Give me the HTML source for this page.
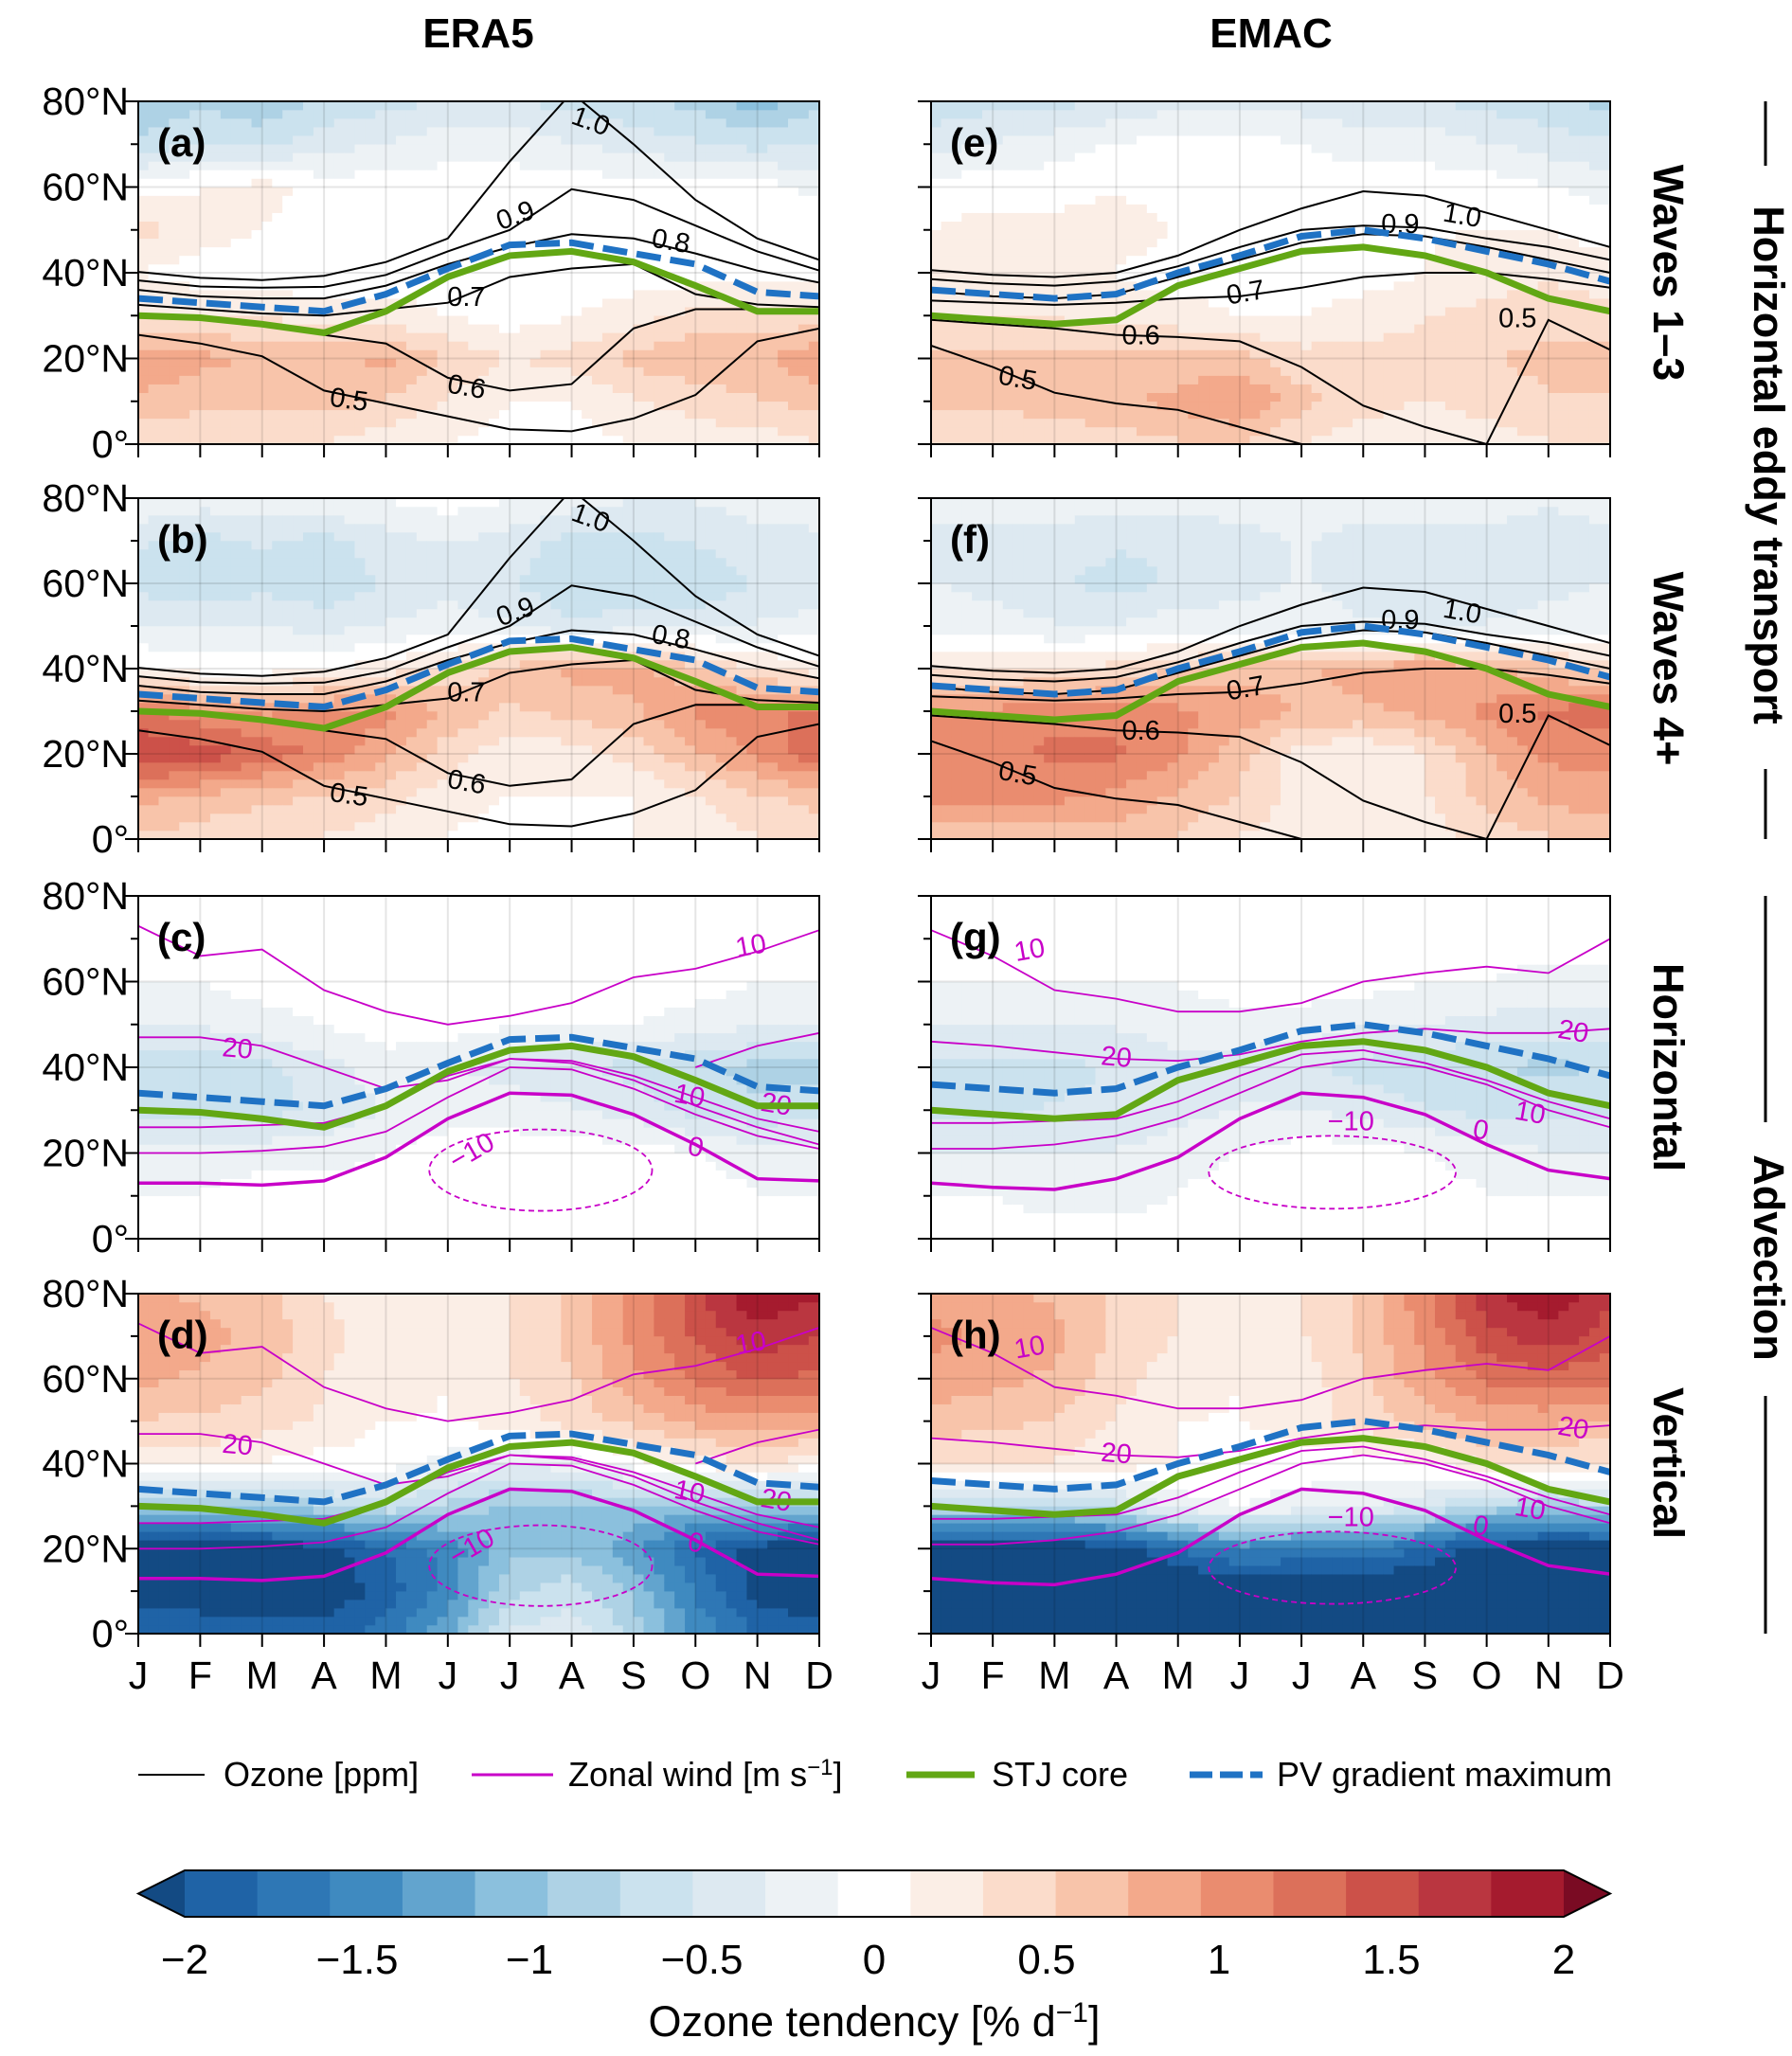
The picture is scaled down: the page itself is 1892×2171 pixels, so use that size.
<!DOCTYPE html>
<html><head><meta charset="utf-8"><style>
html,body{margin:0;padding:0;background:#fff}
svg{display:block;font-family:"Liberation Sans",Arial,sans-serif}
</style></head><body>
<svg id="fig" width="1892" height="2171" viewBox="0 0 1892 2171" xmlns="http://www.w3.org/2000/svg"></svg>
<script>
// ---------- data ----------
const months = ["J","F","M","A","M","J","J","A","S","O","N","D"];
const lats = [0,10,20,30,40,50,60,70,80];
const latTicks = ["0°","20°N","40°N","60°N","80°N"];
const latTickVals = [0,20,40,60,80];
const cbTicks = [-2,-1.5,-1,-0.5,0,0.5,1,1.5,2];
const cbTickLabels = ["−2","−1.5","−1","−0.5","0","0.5","1","1.5","2"];
const fieldA = [
[0.3,0.3,0.3,0.3,0.2,0.1,0,0,0.1,0.2,0.2,0.3],
[0.7,0.6,0.6,0.6,0.5,0.3,0.1,0.1,0.3,0.4,0.5,0.6],
[0.9,0.8,0.7,0.7,0.8,0.5,0.3,0.4,0.6,0.7,0.7,0.9],
[0.3,0.3,0.3,0.2,0.2,0.1,0,0.1,0.2,0.4,0.4,0.4],
[0.1,0,0,-0.1,0,0,0,0,0,0,0,0],
[0.4,0.2,0.1,0,0,0,0,0,0,0.1,0.1,0.1],
[0,0.1,0.2,0,0,0,0,0,0,0,0,-0.2],
[-0.7,-0.5,-0.6,-0.4,-0.3,-0.2,-0.2,-0.3,-0.4,-0.5,-0.6,-0.5],
[-0.9,-0.8,-0.9,-0.7,-0.6,-0.5,-0.5,-0.6,-0.7,-0.8,-1.1,-0.8]];
const fieldE = [
[0.3,0.3,0.4,0.4,0.5,0.5,0.3,0.2,0.2,0.2,0.3,0.3],
[0.6,0.6,0.6,0.7,0.8,1.0,0.6,0.4,0.3,0.4,0.5,0.5],
[0.6,0.6,0.6,0.6,0.6,0.6,0.4,0.4,0.4,0.5,0.6,0.6],
[0.3,0.3,0.3,0.2,0.2,0.1,0.1,0.2,0.3,0.4,0.4,0.4],
[0.2,0.2,0.1,0.1,0,0,0,0,0.1,0.2,0.3,0.2],
[0.1,0.2,0.2,0.2,0.1,0,0,0,0.1,0.1,0.1,0],
[0,0,0,0.1,0,0,0,0,0,0,-0.1,-0.2],
[-0.4,-0.3,-0.2,-0.1,0,0,-0.1,-0.2,-0.2,-0.3,-0.4,-0.5],
[-0.7,-0.6,-0.6,-0.5,-0.4,-0.4,-0.4,-0.5,-0.5,-0.6,-0.7,-0.8]];
const fieldB = [
[0.5,0.4,0.3,0.3,0.2,0.1,0,0,0.1,0.2,0.3,0.4],
[0.8,0.7,0.6,0.5,0.4,0.2,0.1,0.1,0.1,0.3,0.5,0.6],
[1.6,1.5,1.3,1.1,0.8,0.4,0.2,0.2,0.4,0.7,1.0,1.3],
[1.2,1.0,0.9,1.0,1.0,0.7,0.5,0.6,0.7,1.0,1.1,1.2],
[0.1,0,0,0.1,0.2,0.4,0.6,0.8,0.8,0.6,0.3,0.2],
[-0.3,-0.3,-0.3,-0.4,-0.3,-0.2,-0.3,-0.5,-0.4,-0.4,-0.3,-0.2],
[-0.6,-0.7,-0.6,-0.7,-0.5,-0.4,-0.5,-0.7,-0.7,-0.7,-0.5,-0.5],
[-0.5,-0.6,-0.5,-0.6,-0.4,-0.3,-0.4,-0.6,-0.6,-0.5,-0.4,-0.4],
[-0.1,-0.2,-0.2,-0.1,-0.1,0,-0.1,-0.2,-0.3,-0.3,-0.2,-0.1]];
const fieldF = [
[0.6,0.6,0.6,0.6,0.5,0.3,0.2,0.1,0.2,0.4,0.5,0.5],
[1.0,1.0,1.0,0.9,0.7,0.5,0.2,0.1,0.3,0.6,0.8,0.9],
[1.0,1.1,1.2,1.2,1.0,0.6,0.2,0.1,0.3,0.7,1.0,1.0],
[1.0,1.0,1.1,1.1,1.0,0.9,0.7,0.7,0.8,1.0,1.2,1.3],
[0.3,0.3,0.3,0.4,0.5,0.6,0.7,0.8,0.9,0.8,0.6,0.4],
[-0.2,-0.2,-0.3,-0.3,-0.2,-0.2,-0.2,-0.3,-0.3,-0.3,-0.2,-0.2],
[-0.3,-0.4,-0.5,-0.6,-0.5,-0.4,-0.3,-0.4,-0.5,-0.5,-0.4,-0.3],
[-0.4,-0.4,-0.4,-0.5,-0.5,-0.4,-0.3,-0.4,-0.4,-0.4,-0.4,-0.4],
[-0.2,-0.2,-0.2,-0.2,-0.2,-0.2,-0.2,-0.2,-0.2,-0.2,-0.3,-0.2]];
const fieldC = [
[0,0,0,0,0,0.1,0.1,0.1,0,0,0,0],
[-0.1,-0.1,0,0,0,0,0,0,0,0,-0.1,-0.1],
[-0.2,-0.2,-0.2,-0.2,-0.1,0,0,0,0,-0.1,-0.2,-0.2],
[-0.6,-0.6,-0.6,-0.5,-0.3,-0.2,-0.2,-0.3,-0.4,-0.6,-0.7,-0.6],
[-0.7,-0.7,-0.6,-0.4,-0.2,-0.3,-0.4,-0.5,-0.6,-0.7,-0.8,-0.8],
[-0.3,-0.3,-0.2,-0.1,0,0,-0.1,-0.1,-0.1,-0.2,-0.3,-0.3],
[-0.1,-0.1,0,0,0,0,0,0,0,0,-0.1,-0.1],
[0,0,0,0,0,0,0,0,0,0,0,0],
[0,0,0,0,0,0,0,0,0,0,0,0]];
const fieldG = [
[0,0,0,0,0,0,0,0,0,0,0,0],
[-0.1,-0.1,-0.2,-0.2,-0.1,0,0,0,0,-0.1,-0.1,-0.1],
[-0.3,-0.3,-0.3,-0.3,-0.2,-0.1,0,0,-0.1,-0.2,-0.3,-0.3],
[-0.6,-0.6,-0.5,-0.5,-0.4,-0.3,-0.3,-0.4,-0.5,-0.6,-0.6,-0.6],
[-0.6,-0.6,-0.6,-0.5,-0.4,-0.4,-0.5,-0.6,-0.7,-0.7,-0.8,-0.7],
[-0.3,-0.3,-0.3,-0.3,-0.2,-0.2,-0.2,-0.3,-0.3,-0.4,-0.4,-0.4],
[-0.1,-0.1,-0.1,-0.1,-0.1,0,0,0,-0.1,-0.1,-0.2,-0.2],
[0,0,0,0,0,0,0,0,0,0,0,0],
[0,0,0,0,0,0,0,0,0,0,0,0]];
const fieldD = [
[-1.8,-1.8,-1.9,-1.9,-1.7,-1.2,-0.5,-0.4,-0.8,-1.4,-1.8,-1.9],
[-2.2,-2.2,-2.2,-2.2,-1.9,-1.5,-0.8,-0.6,-1.0,-1.6,-2.1,-2.2],
[-2.2,-2.2,-2.2,-2.1,-1.8,-1.5,-1.0,-1.0,-1.3,-1.8,-2.1,-2.2],
[-1.0,-1.0,-0.9,-0.8,-0.6,-0.8,-1.0,-1.0,-1.0,-1.0,-1.0,-1.0],
[0.2,0.2,0.1,0,0,-0.2,-0.3,-0.2,0,0.2,0.3,0.2],
[0.5,0.5,0.4,0.3,0.1,0.1,0.2,0.4,0.6,0.8,0.9,0.8],
[0.8,0.7,0.6,0.3,0.2,0.1,0.3,0.5,0.9,1.2,1.4,1.3],
[0.9,0.8,0.7,0.4,0.2,0.2,0.3,0.6,1.0,1.4,1.7,1.6],
[0.8,0.7,0.6,0.3,0.2,0.2,0.3,0.6,1.0,1.5,2.0,1.8]];
const fieldH = [
[-2.3,-2.3,-2.3,-2.3,-2.3,-2.3,-2.3,-2.3,-2.3,-2.3,-2.3,-2.3],
[-2.3,-2.3,-2.3,-2.3,-2.3,-2.3,-2.3,-2.3,-2.3,-2.3,-2.3,-2.3],
[-2.2,-2.2,-2.2,-2.1,-1.8,-1.5,-1.6,-1.6,-1.8,-2.1,-2.2,-2.2],
[-0.8,-0.8,-0.8,-0.6,-0.2,-0.1,-0.2,-0.3,-0.5,-0.8,-0.9,-0.8],
[0.4,0.3,0.3,0.2,0.1,0,0,0,0.1,0.3,0.3,0.3],
[0.6,0.6,0.5,0.3,0.1,0.1,0.2,0.4,0.6,0.8,0.8,0.7],
[0.9,0.8,0.7,0.4,0.2,0.1,0.2,0.5,0.9,1.2,1.3,1.2],
[1.0,0.9,0.8,0.5,0.3,0.2,0.3,0.6,1.0,1.5,1.7,1.5],
[0.9,0.8,0.7,0.5,0.3,0.2,0.3,0.6,1.1,1.7,2.0,1.6]];
const stjEra = [30,29.5,28,26,31,39,44,45,42.5,37,31,31];
const pvEra  = [34,33,32,31,35,41,46.5,47,44.5,42,35.5,34.5];
const stjEmac = [30,29,28,29,37,41,45,46,44,40,34,31];
const pvEmac  = [36,35,34,35,40,44,48.5,50,48,45,42,38];
const ozEra10 = [40.2,38.8,38.3,39.3,42.5,48,66,82,70,57,48,43];
const ozEra09 = [38.2,36.8,36.5,36.7,39.5,45,50,59.5,57,51,45,40.5];
const ozEra08 = [36,34.5,34,34,37,42,46,49,48,44.5,40.5,37.7];
const ozEra07 = [32.5,31.5,30.5,30,31.5,33,39,41,42,35,32.6,32];
const ozEra06 = [null,null,null,25.5,23.5,15.5,12.5,14,27,31.5,31.5,31.5];
const ozEra05 = [25.5,23.5,20.5,12.5,9.5,6.5,3.5,3,6,11.5,24,27];
const ozEmac10 = [40.6,39.5,39,40,44,50,55,59,58,54,50,46];
const ozEmac09 = [38.5,37.5,37,38,41.5,46,50,51,50.5,48,46,43];
const ozEmac08 = [35.7,34.5,34,35,39,43,47,49,48.5,46,43,40];
const ozEmac07 = [33.5,33,32.5,33,34,34.5,36.5,39,40,40,38.5,36.5];
const ozEmac06 = [29,28,27,25.5,25,24,18,9,4,0,null,null];
const ozEmac05 = [23,18,12,9.5,8,4,0,null,null,null,null,null];
const ozEmac05b = [null,null,null,null,null,null,null,null,null,0,29,22];
const wEra10top = [73,66,67.5,58,53,50,52,55,61,63,67,72];
const wEra20 = [47,47,45,40,35,37,42,41,37,31,26,22];
const wEra20low = [26,26,26.5,27,31,38,42,41.5,38,33,28,25];
const wEra10low = [20,20,20.5,21.5,25,33,40,39.5,35,29,24,21];
const wEra0 = [13,13,12.5,13.5,19,28,34,33.5,29,22,14,13.5];
const wEra20r = [null,null,null,null,null,null,null,null,null,40,45,48];
const wEmac10top = [72,66,58,56,53,53,55,60,62,63.5,62,70];
const wEmac20 = [46,45,43.5,42,41.5,43,46,48,49,48,48,49];
const wEmac20low = [27,27,27.5,28,32,38,43,44,41,37,32,28];
const wEmac10low = [21,21,22,24,28,34,40,42,40,36,30,26];
const wEmac0 = [13,12,11.5,14,19,28,34,33,29,22,16,14];
const wEraNeg = [6.5,16,1.8,9.5];
const wEmacNeg = [6.5,15.5,2,8.5];

const NS="http://www.w3.org/2000/svg";
const svg=document.getElementById('fig');
function el(tag,attrs,parent){const e=document.createElementNS(NS,tag);for(const k in attrs)e.setAttribute(k,attrs[k]);(parent||svg).appendChild(e);return e;}
const cols=[[146,865],[983,1700]];
const rows=[[107,469],[526,886],[946,1308],[1366,1725]];
const binColors=["#1f63a6","#2e77b5","#3f8ac0","#62a4ce","#8bc0dd","#aed2e5","#cbe2ee","#dde9f1","#edf2f5","#ffffff","#fbeee6","#fbdccb","#f8c4aa","#f3a98b","#ea8c6f","#dc705a","#cc5149","#ba3640","#a51b2e"];
const lowColor="#134a83", highColor="#7a0b23";
function colorOf(v){if(v<-2)return lowColor;if(v>2)return highColor;let k=Math.floor((v+2)/(4/19));if(k>18)k=18;if(k<0)k=0;return binColors[k];}
function sample(f,m,lat){const r=lat/10;const r0=Math.min(Math.floor(r),7),c0=Math.min(Math.floor(m),10);const fr=r-r0,fc=m-c0;
 return f[r0][c0]*(1-fr)*(1-fc)+f[r0][c0+1]*(1-fr)*fc+f[r0+1][c0]*fr*(1-fc)+f[r0+1][c0+1]*fr*fc;}

const panels=[
 {lab:"(a)",f:fieldA,c:0,r:0,oz:"era",w:null,stj:stjEra,pv:pvEra},
 {lab:"(b)",f:fieldB,c:0,r:1,oz:"era",w:null,stj:stjEra,pv:pvEra},
 {lab:"(c)",f:fieldC,c:0,r:2,oz:null,w:"era",stj:stjEra,pv:pvEra},
 {lab:"(d)",f:fieldD,c:0,r:3,oz:null,w:"era",stj:stjEra,pv:pvEra},
 {lab:"(e)",f:fieldE,c:1,r:0,oz:"emac",w:null,stj:stjEmac,pv:pvEmac},
 {lab:"(f)",f:fieldF,c:1,r:1,oz:"emac",w:null,stj:stjEmac,pv:pvEmac},
 {lab:"(g)",f:fieldG,c:1,r:2,oz:null,w:"emac",stj:stjEmac,pv:pvEmac},
 {lab:"(h)",f:fieldH,c:1,r:3,oz:null,w:"emac",stj:stjEmac,pv:pvEmac}];

panels.forEach((p,pi)=>{
 const [x0,x1]=cols[p.c],[y0,y1]=rows[p.r];
 const X=m=>x0+(x1-x0)*m/11, Y=l=>y1-(y1-y0)*l/80;
 const g=el('g',{});
 
 
 const clipId='clip'+pi;
 const cp=el('clipPath',{id:clipId},g);el('rect',{x:x0,y:y0,width:x1-x0,height:y1-y0},cp);
 const fg=el('g',{'clip-path':`url(#${clipId})`},g);
 
 
 const NX=66,NY=40;
 for(let i=0;i<NX;i++)for(let j=0;j<NY;j++){
  const m=(i+0.5)/NX*11, l=(j+0.5)/NY*80;
  const r=el('rect',{x:X(i/NX*11)-0.3,y:Y((j+1)/NY*80)-0.3,width:(x1-x0)/NX+0.6,height:(y1-y0)/NY+0.6,fill:colorOf(sample(p.f,m,l))},fg);
  
  
 }
 for(let m=1;m<11;m++)el('line',{x1:X(m),x2:X(m),y1:y0,y2:y1,stroke:"#000","stroke-opacity":0.1,"stroke-width":2},fg);
 [20,40,60].forEach(l=>el('line',{x1:x0,x2:x1,y1:Y(l),y2:Y(l),stroke:"#000","stroke-opacity":0.1,"stroke-width":2},fg));
 const path=(arr,attrs,name)=>{let d="",pen=false;arr.forEach((v,m)=>{if(v==null){pen=false;return;}d+=(pen?"L":"M")+X(m).toFixed(1)+","+Y(v).toFixed(1);pen=true;});
   const e=el('path',Object.assign({d:d,fill:"none"},attrs),fg);return e;};
 const txt=(s,m,l,col,rot,name)=>{const t=el('text',{x:X(m),y:Y(l),fill:col,"font-size":29,"text-anchor":"middle","dominant-baseline":"middle",transform:`rotate(${rot} ${X(m)} ${Y(l)})`},fg);t.textContent=s;};
 if(p.oz){
  const set=p.oz==="era"?[ozEra10,ozEra09,ozEra08,ozEra07,ozEra06,ozEra05]:[ozEmac10,ozEmac09,ozEmac08,ozEmac07,ozEmac06,ozEmac05,ozEmac05b];
  set.forEach(a=>path(a,{stroke:"#000","stroke-width":2},'ozone-contour'));
  if(p.oz==="era"){
   txt("1.0",7.3,75,"#000",20,'ozone-label');txt("0.9",6.1,53,"#000",-20,'ozone-label');txt("0.8",8.6,47,"#000",10,'ozone-label');
   txt("0.7",5.3,34,"#000",0,'ozone-label');txt("0.6",5.3,13,"#000",10,'ozone-label');txt("0.5",3.4,10,"#000",8,'ozone-label');
  }else{
   txt("1.0",8.6,53,"#000",10,'ozone-label');txt("0.9",7.6,51,"#000",0,'ozone-label');txt("0.7",5.1,35,"#000",-10,'ozone-label');
   txt("0.6",3.4,25,"#000",0,'ozone-label');txt("0.5",1.4,15,"#000",10,'ozone-label');txt("0.5",9.5,29,"#000",0,'ozone-label');
  }
 }
 if(p.w){
  const e=p.w==="era";
  const thin={stroke:"#c800c8","stroke-width":1.8},thick={stroke:"#c800c8","stroke-width":3.5};
  path(e?wEra10top:wEmac10top,thin,'wind-contour');path(e?wEra20:wEmac20,thin,'wind-contour');
  path(e?wEra20low:wEmac20low,thin,'wind-contour');path(e?wEra10low:wEmac10low,thin,'wind-contour');
  if(e)path(wEra20r,thin,'wind-contour');
  path(e?wEra0:wEmac0,thick,'wind-contour-zero');
  const n=e?wEraNeg:wEmacNeg;
  const el2=el('ellipse',{cx:X(n[0]),cy:Y(n[1]),rx:(X(n[2])-X(0)),ry:(Y(0)-Y(n[3])),fill:"none",stroke:"#c800c8","stroke-width":1.8,"stroke-dasharray":"6,4"},fg);
  
  txt("10",e?9.9:1.6,e?68:67,"#c800c8",-10,'wind-label');txt("20",e?1.6:3,e?44:42,"#c800c8",5,'wind-label');
  txt("10",e?8.9:9.7,e?33:29,"#c800c8",10,'wind-label');txt("0",e?9:8.9,e?21:25,"#c800c8",10,'wind-label');
  txt("−10",e?5.4:6.8,e?20:27,"#c800c8",e?-30:0,'wind-label');txt("20",e?10.3:10.4,e?31:48,"#c800c8",10,'wind-label');
 }
 path(p.stj,{stroke:"#62a714","stroke-width":7},'stj-core-line');
 path(p.pv,{stroke:"#1f72c4","stroke-width":7,"stroke-dasharray":"26,10"},'pv-gradient-line');
 const fr=el('rect',{x:x0,y:y0,width:x1-x0,height:y1-y0,fill:"none",stroke:"#000","stroke-width":2},g);
 
 const pl=el('text',{x:x0+20,y:y0+58,"font-size":42,"font-weight":"bold",fill:"#000"},g);pl.textContent=p.lab;
 
 for(let m=0;m<12;m++)el('line',{x1:X(m),x2:X(m),y1:y1,y2:y1+14,stroke:"#000","stroke-width":2},g);
 for(let l=0;l<=80;l+=10)el('line',{x1:x0,x2:x0-(l%20===0?14:8),y1:Y(l),y2:Y(l),stroke:"#000","stroke-width":2},g);
 if(p.c===0)latTickVals.forEach((l,i)=>{const t=el('text',{x:x0-10,y:Y(l)+14,"font-size":41,"text-anchor":"end",fill:"#000"},g);t.textContent=latTicks[i];
   });
 if(p.r===3)months.forEach((s,m)=>{const t=el('text',{x:X(m),y:y1+58,"font-size":41,"text-anchor":"middle",fill:"#000"},g);t.textContent=s;
   });
});

function T(s,x,y,attrs,name){const t=el('text',Object.assign({x:x,y:y,fill:"#000"},attrs));t.textContent=s;return t;}
T("ERA5",505,50,{"font-size":44,"font-weight":"bold","text-anchor":"middle"},'column-title-era5');
T("EMAC",1342,50,{"font-size":44,"font-weight":"bold","text-anchor":"middle"},'column-title-emac');
const rot=(s,x,y,name)=>{const t=T(s,x,y,{"font-size":45,"font-weight":"bold","text-anchor":"middle","dominant-baseline":"middle",transform:`rotate(90 ${x} ${y})`},name);};
rot("Waves 1–3",1758,288,'row-label-waves13');rot("Waves 4+",1758,706,'row-label-waves4');
rot("Horizontal",1758,1127,'row-label-horizontal');rot("Vertical",1758,1545,'row-label-vertical');
rot("Horizontal eddy transport",1864,491,'group-label-eddy');rot("Advection",1864,1328,'group-label-advection');
[[107,175],[812,886],[946,1185],[1474,1725]].forEach(s=>{const l=el('line',{x1:1864,x2:1864,y1:s[0],y2:s[1],stroke:"#000","stroke-width":3});});

const lg=el('g',{});
const le=(x1,x2,st,tx,label,name)=>{const l=el('line',Object.assign({x1:x1,x2:x2,y1:1874,y2:1874},st),lg);
 const t=el('text',{x:tx,y:1886,"font-size":36,fill:"#000"},lg);t.innerHTML=label;};
le(146,216,{stroke:"#000","stroke-width":2},236,"Ozone [ppm]",'legend-ozone');
le(498,584,{stroke:"#c800c8","stroke-width":3},600,'Zonal wind [m s<tspan dy="-12" font-size="24">−1</tspan><tspan dy="12">]</tspan>','legend-wind');
le(957,1029,{stroke:"#62a714","stroke-width":7},1047,"STJ core",'legend-stj');
le(1256,1333,{stroke:"#1f72c4","stroke-width":7,"stroke-dasharray":"24,8"},1348,"PV gradient maximum",'legend-pv');

const cb=el('g',{});
const cbx0=195,cbx1=1651,cby0=1975,cby1=2024;
binColors.forEach((c,i)=>{const w=(cbx1-cbx0)/19;const r=el('rect',{x:cbx0+i*w,y:cby0,width:w+0.5,height:cby1-cby0,fill:c},cb);});
el('polygon',{points:`${cbx0},${cby0} ${cbx0},${cby1} 146,${(cby0+cby1)/2}`,fill:lowColor},cb);
el('polygon',{points:`${cbx1},${cby0} ${cbx1},${cby1} 1700,${(cby0+cby1)/2}`,fill:highColor},cb);
el('polygon',{points:`146,${(cby0+cby1)/2} ${cbx0},${cby0} ${cbx1},${cby0} 1700,${(cby0+cby1)/2} ${cbx1},${cby1} ${cbx0},${cby1}`,fill:"none",stroke:"#000","stroke-width":2},cb);
cbTicks.forEach((v,i)=>{const x=cbx0+(v+2)/4*(cbx1-cbx0);const t=el('text',{x:x,y:2084,"font-size":44,"text-anchor":"middle",fill:"#000"},cb);t.textContent=cbTickLabels[i];
 });
const ct=el('text',{x:923,y:2150,"font-size":45,"text-anchor":"middle",fill:"#000"},cb);
ct.innerHTML='Ozone tendency [% d<tspan dy="-15" font-size="30">−1</tspan><tspan dy="15">]</tspan>';

</script>
</body></html>
